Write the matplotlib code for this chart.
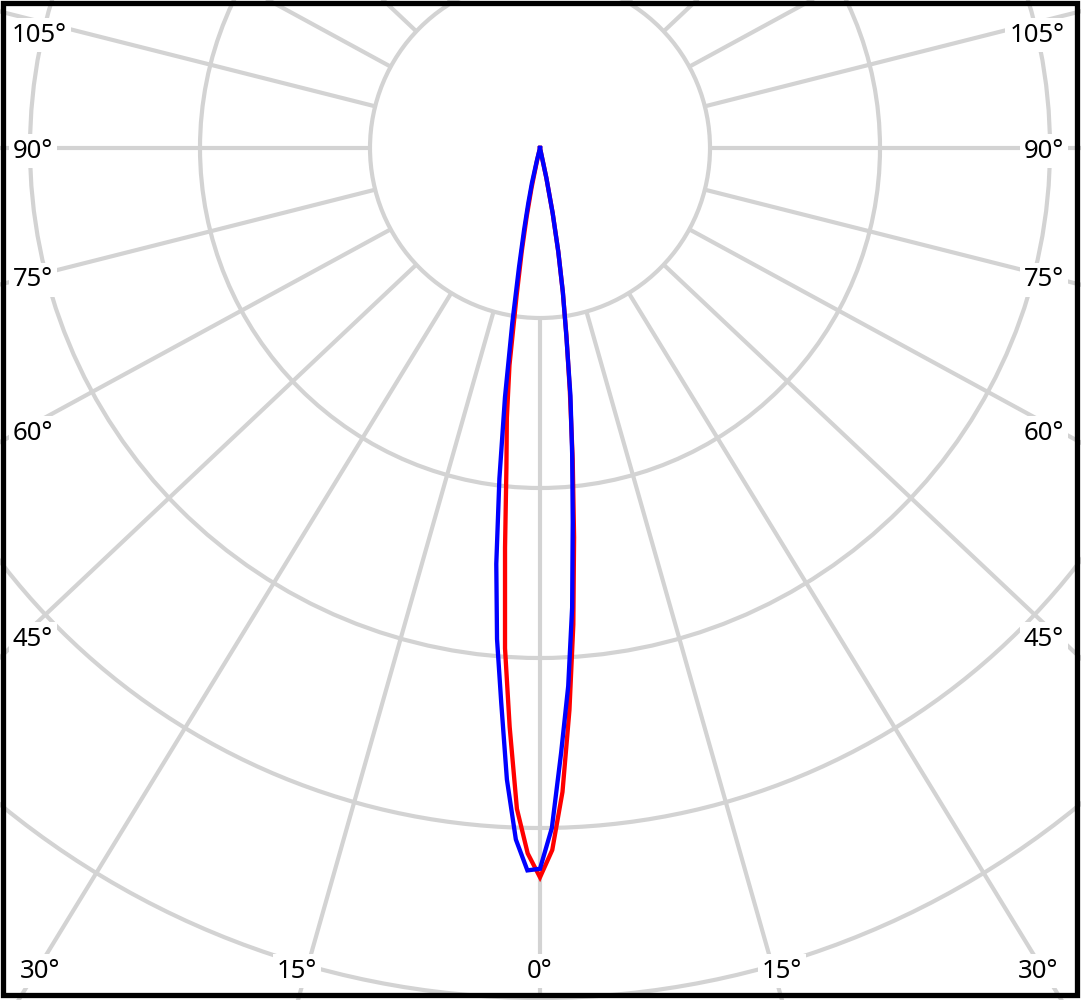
import numpy as np
import matplotlib
matplotlib.use("Agg")
import matplotlib.pyplot as plt
from matplotlib.patches import Circle, Rectangle

# ---------------- data ----------------
# gamma angles (deg, 0 = straight down) and luminous intensity (arbitrary units, ring step = 100)
gamma_red = list(range(-14, 14))
intensity_red = [0, 9, 24, 41, 62, 88, 129, 160, 189, 236, 295, 341, 389, 415,
                 429, 413, 379, 331, 281, 230, 184, 144, 112, 86, 62, 39, 18, 0]

gamma_blue = list(range(-15, 14))
intensity_blue = [0, 7, 21, 33, 49, 71, 104, 148, 196, 246, 290, 327, 372, 407,
                  425, 424, 400, 356, 317, 271, 221, 181, 147, 111, 86, 62, 39, 18, 0]

ring_values = [100, 200, 300, 400, 500]
spoke_angles = list(range(0, 360, 15))

side_labels = ["105°", "90°", "75°", "60°", "45°"]
bottom_labels = ["30°", "15°", "0°", "15°", "30°"]

# ---------------- layout ----------------
W, H = 1081, 1000
PX = 1.7                 # pixels per intensity unit
CX, CY = 540, 148        # pixel position of the polar centre (from top-left)

def px2d(px, py):
    return (px - CX) / PX, (CY - py) / PX

fig = plt.figure(figsize=(W / 100, H / 100), dpi=100)
ax = fig.add_axes([0, 0, 1, 1])
x0, y1 = px2d(0, 0)
x1, y0 = px2d(W, H)
ax.set_xlim(x0, x1)
ax.set_ylim(y0, y1)
ax.axis("off")

grid_col = "#d3d3d3"
grid_lw = 3.0

# circles
for r in ring_values:
    ax.add_patch(Circle((0, 0), r, fill=False, ec=grid_col, lw=grid_lw, zorder=1))

# spokes (slightly stretched horizontally, as in the reference drawing)
k = 1.06
for a in spoke_angles:
    t = np.radians(a)
    d = np.array([k * np.sin(t), -np.cos(t)])
    d /= np.hypot(*d)
    r_in, r_out = ring_values[0], 800
    ax.plot([r_in * d[0], r_out * d[0]], [r_in * d[1], r_out * d[1]],
            color=grid_col, lw=grid_lw, solid_capstyle="butt", zorder=1)

# curves
def polar_xy(g, i):
    g = np.radians(np.asarray(g, float))
    i = np.asarray(i, float)
    return i * np.sin(g), -i * np.cos(g)

xr, yr = polar_xy(gamma_red, intensity_red)
ax.plot(xr, yr, color="#ff0000", lw=3.1, zorder=3, solid_joinstyle="miter")
xb, yb = polar_xy(gamma_blue, intensity_blue)
ax.plot(xb, yb, color="#0000ff", lw=3.1, zorder=4, solid_joinstyle="miter")

# labels
font = dict(family=["Noto Sans", "DejaVu Sans"], fontsize=18.5, color="black")
bbox = dict(facecolor="white", edgecolor="none", pad=3)
left_pos = [(39, 35), (33, 151), (33, 280), (33, 433), (33, 639)]
right_pos = [(1037, 35), (1044, 151), (1044, 280), (1044, 433), (1044, 639)]
for lab, (lx, ly), (rx, ry) in zip(side_labels, left_pos, right_pos):
    ax.text(*px2d(lx, ly), lab, ha="center", va="center", bbox=bbox, zorder=2, **font)
    ax.text(*px2d(rx, ry), lab, ha="center", va="center", bbox=bbox, zorder=2, **font)
bottom_pos = [(40, 971), (297, 971), (540, 971), (782, 971), (1038, 971)]
for lab, (bx, by) in zip(bottom_labels, bottom_pos):
    ax.text(*px2d(bx, by), lab, ha="center", va="center", bbox=bbox, zorder=2, **font)

# outer black frame
fig.add_artist(Rectangle((2.5 / W, 5 / H), (1077 - 2.5) / W, (995 - 2.5) / H,
                         transform=fig.transFigure, fill=False, ec="black", lw=3.8))

fig.savefig("out.png", dpi=100, facecolor="white")
